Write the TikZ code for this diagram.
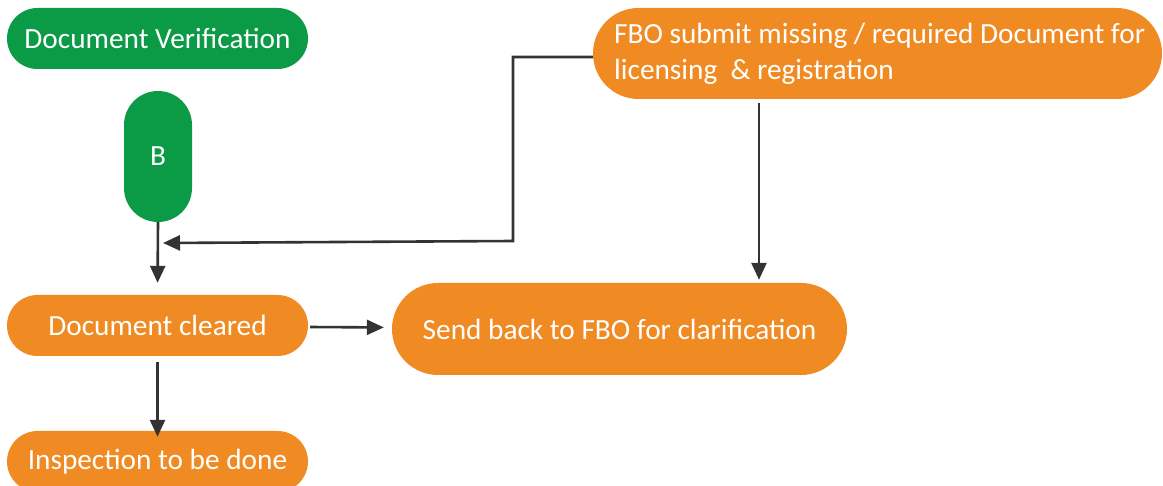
\documentclass[tikz,border=0pt]{standalone}
\usepackage{fontspec}
\setmainfont{Carlito}
\usetikzlibrary{arrows.meta,calc}
\definecolor{vgreen}{HTML}{0B9A45}
\definecolor{vorange}{HTML}{F08A22}
\definecolor{arrgray}{HTML}{333333}
\begin{document}
\begin{tikzpicture}[x=1pt,y=-1pt,
  pill/.style={draw=none,text=white,inner sep=0pt,align=center,
    font=\fontsize{29.3}{36}\selectfont},
  gpill/.style={pill,fill=vgreen},
  opill/.style={pill,fill=vorange},
  arr/.style={draw=arrgray,line width=2.6pt,-{Triangle[length=17pt,width=15pt]}}]
\useasboundingbox (0,0) rectangle (1163,486);
\node[gpill,minimum width=301pt,minimum height=61pt,rounded corners=30.5pt] (dv) at (157.5,38.5) {Document Verification};
\node[gpill,minimum width=68pt,minimum height=131pt,rounded corners=34pt] (b) at (158,156.5) {B};
\node[opill,minimum width=569pt,minimum height=91pt,rounded corners=45.5pt] (fbo) at (877.5,53.5) {};
\node[pill,anchor=west,align=left] (fbot) at (614,53.5) {FBO submit missing / required Document for\\licensing \ \& registration};
\node[opill,minimum width=301pt,minimum height=61pt,rounded corners=30.5pt] (dc) at (157.5,325.5) {Document cleared};
\node[opill,minimum width=301pt,minimum height=61pt,rounded corners=30.5pt] (ins) at (157.5,461.5) {Inspection to be done};
\node[opill,minimum width=455pt,minimum height=92pt,rounded corners=46pt] (sb) at (619.5,329) {Send back to FBO for clarification};
\coordinate (m) at (163,243);
\coordinate (f1) at ($(fbo.west)+(0,3.5)$);
\coordinate (f2) at (759,103);
\draw[arr,shorten >=12pt] (b.south) -- (dc.north);
\draw[arr] (f1) -- (513,57) -- (513,241) -- (m);
\draw[arr,shorten >=3pt] (f2) -- (f2 |- sb.north);
\draw[arr,shorten <=2pt,shorten >=8pt] ($(dc.east)+(0,1.5)$) -- ($(sb.west)+(0,-1.5)$);
\draw[arr,shorten <=6pt,shorten >=-6pt] (dc.south) -- (ins.north);
\end{tikzpicture}
\end{document}
